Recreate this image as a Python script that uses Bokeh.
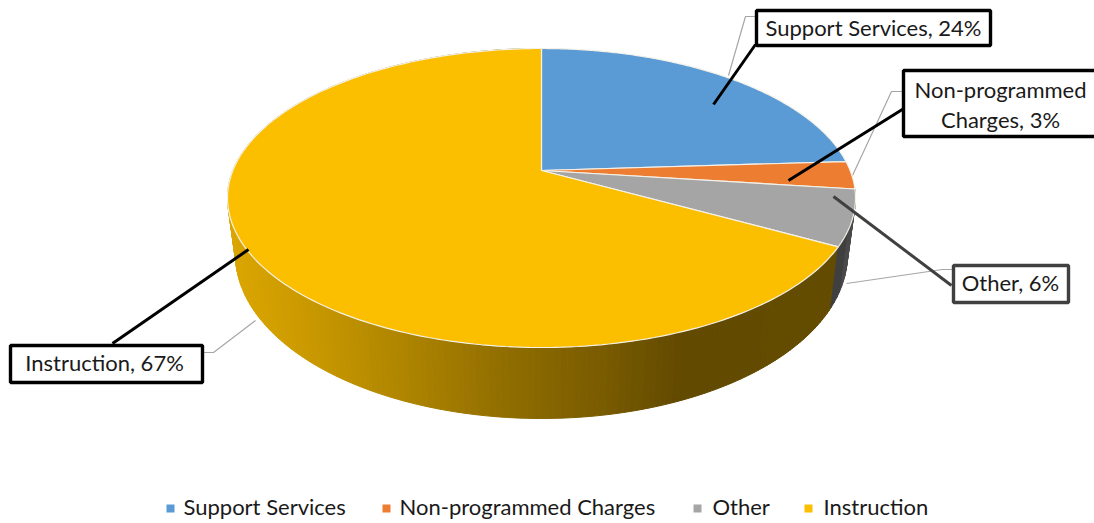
import numpy as np
from bokeh.plotting import figure
from bokeh.models import Range1d
from bokeh.core.properties import value
from bokeh.embed import file_html
from bokeh.resources import INLINE

categories = ["Support Services", "Non-programmed Charges", "Other", "Instruction"]
values = [24, 3, 6, 67]
colors = ["#5B9BD5", "#ED7D31", "#A5A5A5", "#FBBF00"]

FONT = value("Lato")

# Page pixel coordinates
p = figure(width=1094, height=523, x_range=Range1d(0, 1094), y_range=Range1d(523, 0),
           output_backend="svg", toolbar_location=None, min_border=0, outline_line_color=None)
p.axis.visible = False
p.grid.visible = False

TOP = dict(cx=541.0, cy=197.5, rx=314.0, ry=149.5)
BOT = dict(cx=541.0, cy=254.0, rx=306.0, ry=164.0)
A = 0.184


def project(t, e):
    ang = 2 * np.pi * np.asarray(t)
    u, v = np.sin(ang), np.cos(ang)
    d = 1 + A * v
    x = e["cx"] + e["rx"] * np.sqrt(1 - A * A) * u / d
    y = e["cy"] + (-e["ry"] * v - A * e["ry"]) / d
    return x, y


fractions = np.array(values) / sum(values)
edges = np.concatenate([[0], np.cumsum(fractions)])

# Side wall: Other and Instruction slices show their rim
wall_x = [233, 300, 400, 500, 600, 680, 840]
wall_r = [0xDB, 0xCC, 0xB0, 0x92, 0x7A, 0x62, 0x64]
wall_g = [0xA6, 0x9B, 0x86, 0x6F, 0x5C, 0x4A, 0x4C]


def strips(t0, t1, n, colorfn):
    ts = np.linspace(t0, t1, n + 1)
    xs, ys, cs = [], [], []
    for a, b in zip(ts[:-1], ts[1:]):
        xa, ya = project(a, TOP)
        xb, yb = project(b, TOP)
        xc, yc = project(b, BOT)
        xd, yd = project(a, BOT)
        xs.append([xa, xb, xc, xd])
        ys.append([ya, yb, yc, yd])
        cs.append(colorfn((xa + xb + xc + xd) / 4))
    return xs, ys, cs


def gold(x):
    r = int(np.interp(x, wall_x, wall_r))
    g = int(np.interp(x, wall_x, wall_g))
    return f"#{r:02x}{g:02x}00"


xs, ys, cs = strips(edges[3], 1.0, 240, gold)
p.patches(xs, ys, fill_color=cs, line_color=cs, line_width=1)
xs, ys, cs = strips(edges[2], edges[3], 12, lambda x: "#3f3f3f" if x < 843 else "#4a4a4a")
p.patches(xs, ys, fill_color=cs, line_color=cs, line_width=1)

# Gray thin leader lines (behind pie top)
gray_x = [[756, 745, 728], [903, 891, 852], [953, 942, 846], [203, 213, 255]]
gray_y = [[16, 16, 75], [91, 91, 175], [269, 269, 283], [352, 352, 320]]
p.multi_line(gray_x, gray_y, line_color="#a6a6a6", line_width=1.2)

# Pie top
for i in range(len(values)):
    ts = np.linspace(edges[i], edges[i + 1], 200)
    x, y = project(ts, TOP)
    ax = TOP["cx"]
    ay = TOP["cy"] - A * TOP["ry"]
    p.patch(np.concatenate([[ax], x]), np.concatenate([[ay], y]),
            fill_color=colors[i], line_color="#f4f1e8", line_width=1.2)

# Callouts: black leaders
lead_x = [[755, 713], [905, 788], [951, 833], [112, 248]]
lead_y = [[44, 104], [107, 180], [285, 196], [343, 249]]
lead_c = ["#000000", "#000000", "#404040", "#000000"]
for lx, ly, c in zip(lead_x, lead_y, lead_c):
    p.line(lx, ly, line_color=c, line_width=3)

box_l = [756, 903, 953, 10]
box_r = [990, 1110, 1068, 202]
box_t = [10, 70, 265, 345]
box_b = [45, 136, 302, 382]
p.quad(left=box_l, right=box_r, top=box_t, bottom=box_b, fill_color="white",
       line_color=lead_c, line_width=3.4)

label_text = ["Support Services, 24%", "Non-programmed", "Charges, 3%", "Other, 6%", "Instruction, 67%"]
label_x = [873, 1000, 1000, 1010, 104]
label_y = [27, 89, 119, 282, 362]
p.text(label_x, label_y, text=label_text, text_font=FONT, text_font_size="22px",
       text_align="center", text_baseline="middle", text_color="#1a1a1a")

# Legend
leg_mx = [170, 386, 697, 808]
leg_tx = [183, 399, 712, 823]
p.scatter(leg_mx, [508] * 4, marker="square", size=8, fill_color=colors, line_color=None)
p.text(leg_tx, [506] * 4, text=categories, text_font=FONT, text_font_size="22px",
       text_align="left", text_baseline="middle", text_color="#1a1a1a")

open("out.html", "w").write(file_html(p, INLINE))
